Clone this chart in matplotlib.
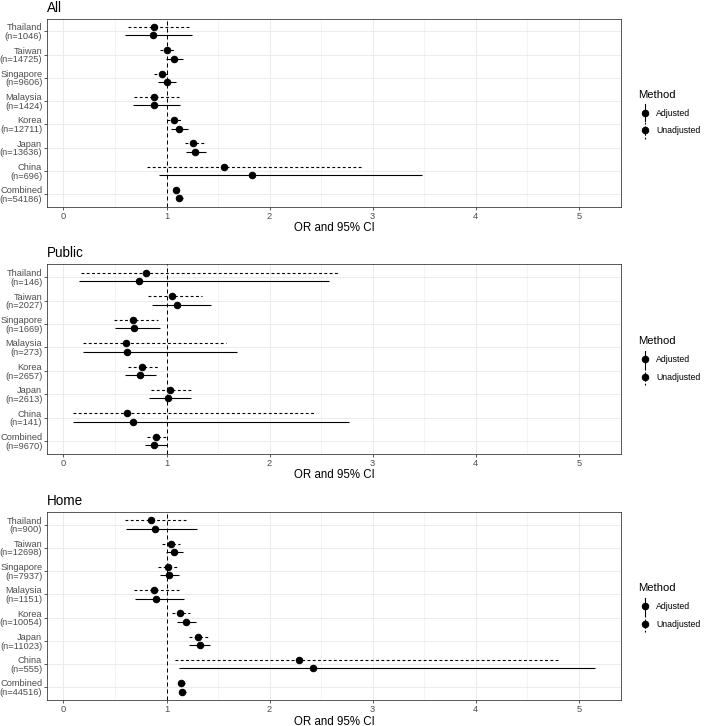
import matplotlib
matplotlib.use("Agg")
import matplotlib.pyplot as plt
from matplotlib.lines import Line2D
from matplotlib.legend_handler import HandlerBase
from matplotlib.ticker import MultipleLocator
import numpy as np

plt.rcParams['font.family'] = ['Liberation Sans', 'DejaVu Sans']

countries = ["Thailand", "Taiwan", "Singapore", "Malaysia", "Korea", "Japan", "China", "Combined"]
methods = ["Adjusted", "Unadjusted"]
panels = ["All", "Public", "Home"]

n_all = [1046, 14725, 9606, 1424, 12711, 13636, 696, 54186]
n_public = [146, 2027, 1669, 273, 2657, 2613, 141, 9670]
n_home = [900, 12698, 7937, 1151, 10054, 11023, 555, 44516]

# All
all_adj_or = [0.87, 1.07, 1.00, 0.875, 1.12, 1.28, 1.83, 1.125]
all_adj_lo = [0.60, 0.99, 0.92, 0.675, 1.04, 1.19, 0.93, 1.09]
all_adj_hi = [1.25, 1.16, 1.09, 1.13, 1.21, 1.38, 3.48, 1.16]
all_unadj_or = [0.88, 1.005, 0.96, 0.875, 1.07, 1.26, 1.56, 1.09]
all_unadj_lo = [0.63, 0.94, 0.88, 0.68, 1.00, 1.18, 0.81, 1.06]
all_unadj_hi = [1.235, 1.08, 1.02, 1.12, 1.14, 1.36, 2.91, 1.12]

# Public
pub_adj_or = [0.73, 1.105, 0.68, 0.62, 0.74, 1.01, 0.67, 0.88]
pub_adj_lo = [0.15, 0.856, 0.50, 0.19, 0.60, 0.83, 0.095, 0.79]
pub_adj_hi = [2.58, 1.43, 0.94, 1.68, 0.90, 1.235, 2.77, 1.00]
pub_unadj_or = [0.80, 1.05, 0.67, 0.61, 0.76, 1.03, 0.62, 0.90]
pub_unadj_lo = [0.17, 0.82, 0.49, 0.19, 0.63, 0.85, 0.09, 0.81]
pub_unadj_hi = [2.66, 1.345, 0.92, 1.58, 0.93, 1.25, 2.45, 1.00]

# Home
home_adj_or = [0.89, 1.07, 1.02, 0.90, 1.19, 1.32, 2.42, 1.15]
home_adj_lo = [0.61, 0.99, 0.94, 0.69, 1.10, 1.22, 1.12, 1.12]
home_adj_hi = [1.30, 1.16, 1.12, 1.17, 1.29, 1.42, 5.16, 1.19]
home_unadj_or = [0.85, 1.04, 1.01, 0.88, 1.13, 1.31, 2.29, 1.14]
home_unadj_lo = [0.60, 0.96, 0.92, 0.68, 1.05, 1.22, 1.08, 1.11]
home_unadj_hi = [1.21, 1.13, 1.11, 1.12, 1.23, 1.41, 4.82, 1.18]

panel_data = [
    (n_all, (all_adj_or, all_adj_lo, all_adj_hi), (all_unadj_or, all_unadj_lo, all_unadj_hi)),
    (n_public, (pub_adj_or, pub_adj_lo, pub_adj_hi), (pub_unadj_or, pub_unadj_lo, pub_unadj_hi)),
    (n_home, (home_adj_or, home_adj_lo, home_adj_hi), (home_unadj_or, home_unadj_lo, home_unadj_hi)),
]

W, H = 708, 726
fig = plt.figure(figsize=(W / 72, H / 72), dpi=72)

# panel pixel boxes: (top, bottom)
boxes = [(18.5, 207.0), (264.3, 454.0), (511.7, 700.3)]
left_px, right_px = 47.0, 621.0

styles = {"Adjusted": "-", "Unadjusted": (0, (2.6, 2.2))}
offsets = {"Adjusted": -0.18, "Unadjusted": 0.18}


class PointRangeHandler(HandlerBase):
    def create_artists(self, legend, orig_handle, xdescent, ydescent, width, height, fontsize, trans):
        cx = width / 2 - xdescent
        cy = height / 2 - ydescent
        ls = orig_handle.get_linestyle()
        line = Line2D([cx, cx], [cy - 8.5, cy + 8.5], color='black', linestyle=ls, lw=1.1,
                      transform=trans)
        if ls != '-':
            line.set_dashes((1.6, 1.8))
        dot = Line2D([cx], [cy], marker='o', ms=6.5, color='black', linestyle='None', transform=trans)
        return [line, dot]


grey30 = '#4D4D4D'
for (title, (top, bot), (ns, adj, unadj)) in zip(panels, boxes, panel_data):
    ax = fig.add_axes([left_px / W, 1 - bot / H, (right_px - left_px) / W, (bot - top) / H])
    ypos = np.arange(len(countries), 0, -1).astype(float)
    for m, (orv, lo, hi) in zip(methods, [adj, unadj]):
        y = ypos + offsets[m]
        ax.hlines(y, lo, hi, color='black', linestyles=[styles[m]], lw=1.1, zorder=3)
        ax.plot(orv, y, 'o', color='black', ms=6.5, zorder=4, linestyle='None')
    ax.axvline(1, color='black', lw=1.0, linestyle=(0, (4, 3)), zorder=2.5)

    ax.set_xlim(-0.16, 5.41)
    ax.set_ylim(0.45, 8.55)
    ax.xaxis.set_major_locator(MultipleLocator(1))
    ax.xaxis.set_minor_locator(MultipleLocator(0.5))
    ax.set_yticks(ypos)
    ax.set_yticklabels([f"{c}\n(n={n})" for c, n in zip(countries, ns)], linespacing=0.95)
    ax.grid(True, which='major', color='#EBEBEB', lw=1.0, zorder=0)
    ax.grid(True, which='minor', axis='x', color='#EBEBEB', lw=0.5, zorder=0)
    ax.set_axisbelow(True)
    ax.tick_params(which='major', length=2.75, width=0.8, color='#333333', labelsize=9.3,
                   labelcolor=grey30, pad=2)
    ax.tick_params(which='minor', length=0)
    for s in ax.spines.values():
        s.set_color('#333333')
        s.set_linewidth(0.8)
    ax.set_xlabel("OR and 95% CI", fontsize=11.5, color='black', labelpad=1.5)
    ax.set_title(title, loc='left', fontsize=13.5, pad=7)

    handles = [Line2D([], [], linestyle='-', color='black'),
               Line2D([], [], linestyle='--', color='black')]
    leg = ax.legend(handles, methods, title="Method", loc='center left',
                    bbox_to_anchor=(1.0 + 14 / (right_px - left_px), 0.5), frameon=False,
                    fontsize=8.8, title_fontsize=11.3, handler_map={Line2D: PointRangeHandler()},
                    handlelength=1.4, handletextpad=0.6, labelspacing=0.95, borderaxespad=0,
                    alignment='left')
    leg._legend_box.sep = 9

fig.savefig("out.png", dpi=72)
